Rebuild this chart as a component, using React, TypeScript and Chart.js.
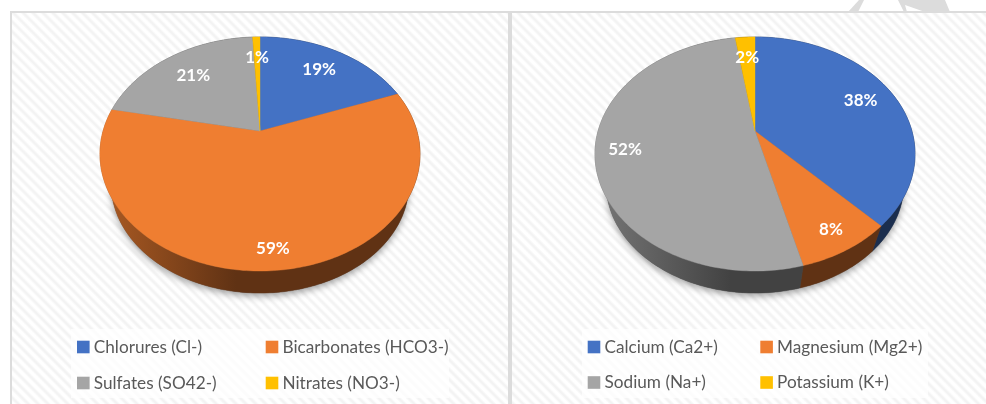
import React, { useEffect, useRef } from "react";
import { Chart, registerables } from "chart.js";

Chart.register(...registerables);

const anionLabels = ["Chlorures (Cl-)", "Bicarbonates (HCO3-)", "Sulfates (SO42-)", "Nitrates (NO3-)"];
const anionValues = [19.3, 58.9, 20.9, 0.9];
const cationLabels = ["Calcium (Ca2+)", "Magnesium (Mg2+)", "Sodium (Na+)", "Potassium (K+)"];
const cationValues = [37.9, 8.1, 51.6, 2.4];
const sliceColors = ["#4472C4", "#EF7E31", "#A5A5A5", "#FFC000"];

const anionView = {
  labelRadius: [0.74, 0.87, 0.72, 0.755],
  box: [59, 317, 378, 69],
  swatchX: [65, 253.7],
  rowY: [335, 371],
  padLeft: 0,
};
const cationView = {
  labelRadius: [0.766, 0.853, 0.818, 0.755],
  box: [70, 317, 346, 69],
  swatchX: [75.7, 248.3],
  rowY: [335, 370.5],
  padLeft: 12,
};

const TILT = -0.1966;
const SCALE_X = 156.9 / 119;
const SCALE_Y = 112.5 / 119;
const BASE_SCALE = 0.93;
const BASE_DROP = 31.8;
const FONT = "Lato";

function shade(hex: string, f: number) {
  const n = parseInt(hex.slice(1), 16);
  const c = [(n >> 16) & 255, (n >> 8) & 255, n & 255].map((v) => Math.round(v * f));
  return `rgb(${c[0]},${c[1]},${c[2]})`;
}

function project(arc: any, r: number, t: number, base = false) {
  const u = r * Math.cos(t);
  const v = r * Math.sin(t);
  const w = 1 + TILT * v;
  const X = (arc.outerRadius * SCALE_X * u) / w;
  const Y = (arc.outerRadius * SCALE_Y * v) / w;
  if (base) return [arc.x + X * BASE_SCALE, arc.y + Y * BASE_SCALE + BASE_DROP];
  return [arc.x + X, arc.y + Y];
}

function sweep(a: number, b: number) {
  const n = Math.max(2, Math.ceil(((b - a) * 180) / Math.PI));
  const list: number[] = [];
  for (let i = 0; i <= n; i++) list.push(a + ((b - a) * i) / n);
  return list;
}

const pie3d = {
  id: "pie3d",
  beforeDatasetDraw(chart: any) {
    const ctx = chart.ctx;
    const arcs = chart.getDatasetMeta(0).data;
    const colors = chart.data.datasets[0].backgroundColor;
    const first = arcs[0];
    const rim = first.outerRadius * SCALE_X * 1.02;

    // soft shadow of the solid
    ctx.save();
    ctx.shadowColor = "rgba(0,0,0,0.38)";
    ctx.shadowBlur = 7;
    ctx.shadowOffsetY = 3;
    ctx.fillStyle = "#555";
    ctx.beginPath();
    sweep(0, Math.PI * 2).forEach((t) => {
      const p = project(first, 1, t, true);
      ctx.lineTo(p[0], p[1]);
    });
    ctx.closePath();
    ctx.fill();
    ctx.restore();

    // wall
    arcs.forEach((arc: any, i: number) => {
      const g = ctx.createLinearGradient(arc.x - rim, 0, arc.x - rim * 0.15, 0);
      g.addColorStop(0, shade(colors[i], 0.72));
      g.addColorStop(1, shade(colors[i], 0.4));
      ctx.fillStyle = g;
      ctx.strokeStyle = g;
      ctx.lineWidth = 0.5;
      ctx.beginPath();
      const ts = sweep(arc.startAngle, arc.endAngle);
      ts.forEach((t) => {
        const p = project(arc, 1, t);
        ctx.lineTo(p[0], p[1]);
      });
      ts.slice().reverse().forEach((t) => {
        const p = project(arc, 1, t, true);
        ctx.lineTo(p[0], p[1]);
      });
      ctx.closePath();
      ctx.fill();
      ctx.stroke();
    });

    // top face
    arcs.forEach((arc: any, i: number) => {
      ctx.fillStyle = colors[i];
      ctx.strokeStyle = colors[i];
      ctx.lineWidth = 0.4;
      ctx.beginPath();
      ctx.moveTo(arc.x, arc.y);
      sweep(arc.startAngle, arc.endAngle).forEach((t) => {
        const p = project(arc, 1, t);
        ctx.lineTo(p[0], p[1]);
      });
      ctx.closePath();
      ctx.fill();
      ctx.stroke();
    });
    return false;
  },
  afterDatasetsDraw(chart: any, _a: any, opts: any) {
    const ctx = chart.ctx;
    const arcs = chart.getDatasetMeta(0).data;
    const values = chart.data.datasets[0].data;
    ctx.save();
    ctx.fillStyle = "#ffffff";
    ctx.font = `bold ${opts.labelSize}px ${FONT}`;
    ctx.textAlign = "center";
    ctx.textBaseline = "middle";
    arcs.forEach((arc: any, i: number) => {
      const p = project(arc, opts.view.labelRadius[i], (arc.startAngle + arc.endAngle) / 2);
      ctx.fillText(`${Math.round(values[i])}%`, p[0], p[1]);
    });
    ctx.restore();
  },
  beforeDraw(chart: any, _a: any, opts: any) {
    const b = opts.view.box;
    chart.ctx.save();
    chart.ctx.fillStyle = "rgba(255,255,255,0.7)";
    chart.ctx.fillRect(b[0], b[1], b[2], b[3]);
    chart.ctx.restore();
  },
  afterDraw(chart: any, _a: any, opts: any) {
    const ctx = chart.ctx;
    const v = opts.view;
    const colors = chart.data.datasets[0].backgroundColor;
    ctx.save();
    ctx.font = `${opts.legendSize}px ${FONT}`;
    ctx.textBaseline = "middle";
    ctx.textAlign = "left";
    chart.data.labels.forEach((label: string, i: number) => {
      const x = v.swatchX[i % 2];
      const y = v.rowY[Math.floor(i / 2)];
      ctx.fillStyle = colors[i];
      ctx.fillRect(x, y - 6.3, 12.6, 12.6);
      ctx.fillStyle = "#595959";
      ctx.fillText(label, x + 16.8, y);
    });
    ctx.restore();
  },
};

function makeChart(canvas: HTMLCanvasElement, labels: string[], values: number[], view: any) {
  return new Chart(canvas, {
    type: "pie",
    data: {
      labels,
      datasets: [{ data: values, backgroundColor: sliceColors, borderWidth: 0 }],
    },
    options: {
      responsive: false,
      animation: false,
      layout: { padding: { left: view.padLeft, bottom: 154 } },
      plugins: {
        legend: { display: false },
        tooltip: { enabled: false },
        pie3d: { view, labelSize: 17, legendSize: 17.2 },
      },
    } as any,
    plugins: [pie3d as any],
  });
}

const abs = (l: number, t: number, w: number, h: number, extra: any = {}) => ({
  position: "absolute" as const,
  left: l,
  top: t,
  width: w,
  height: h,
  ...extra,
});

export default function App() {
  const leftRef = useRef<HTMLCanvasElement>(null);
  const rightRef = useRef<HTMLCanvasElement>(null);
  useEffect(() => {
    document.body.style.margin = "0";
    const a = makeChart(leftRef.current!, anionLabels, anionValues, anionView);
    const b = makeChart(rightRef.current!, cationLabels, cationValues, cationView);
    return () => {
      a.destroy();
      b.destroy();
    };
  }, []);
  return (
    <div style={abs(0, 0, 986, 404, { background: "#fff", overflow: "hidden" })}>
      <svg style={abs(0, 0, 986, 12)} width={986} height={12}>
        <polygon points="848,12 859,0 864,0 858,12" fill="#dcdcdc" />
        <polygon points="898,0 904,12 907,12 905,5 925,12 950,12 945,0" fill="#dcdcdc" />
      </svg>
      <div
        style={abs(12, 13, 974, 391, {
          background: "repeating-linear-gradient(45deg,#ffffff 0,#ffffff 2px,#f3f3f3 4px,#f3f3f3 5px,#ffffff 7px)",
        })}
      />
      <div style={abs(10, 11, 976, 2, { background: "#dcdcdc" })} />
      <div style={abs(10, 11, 2, 393, { background: "#dcdcdc" })} />
      <div style={abs(508, 11, 4, 393, { background: "#dcdcdc" })} />
      <canvas ref={leftRef} width={496} height={392} style={abs(12, 12, 496, 392, { display: "block" })} />
      <canvas ref={rightRef} width={474} height={392} style={abs(512, 12, 474, 392, { display: "block" })} />
    </div>
  );
}
